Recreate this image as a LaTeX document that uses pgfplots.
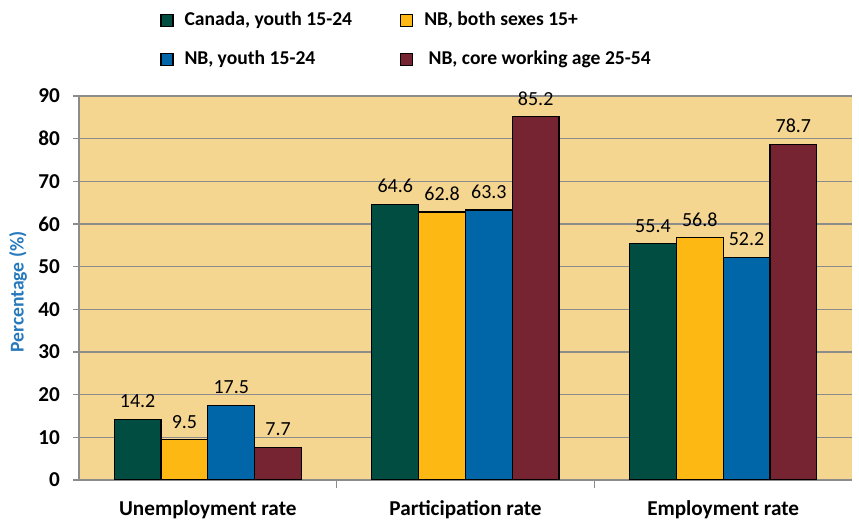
\documentclass[border=0pt]{standalone}
\usepackage{pgfplots}
\pgfplotsset{compat=1.18}
\usepackage{fontspec}
\setmainfont{Carlito}
\definecolor{bgc}{HTML}{F5D690}
\definecolor{cgreen}{HTML}{024D41}
\definecolor{cyellow}{HTML}{FDB813}
\definecolor{cblue}{HTML}{0066A8}
\definecolor{cmaroon}{HTML}{772432}
\definecolor{labblue}{HTML}{2779BD}
\definecolor{gridc}{HTML}{8C8C8C}
\begin{document}
\begin{tikzpicture}
\begin{axis}[
 at={(0,0)},anchor=south west,
 scale only axis,width=386.5pt,height=192pt,
 ybar=0pt,bar width=23.4pt,
 xmin=-0.5,xmax=2.5,ymin=0,ymax=90,
 axis background/.style={fill=bgc},
 axis x line*=bottom,axis y line*=left,
 axis line style={gridc,line width=0.7pt},
 xtick={0,1,2},xticklabels={Unemployment rate,Participation rate,Employment rate},
 minor xtick={0.5,1.5},
 ytick={0,10,...,90},
 major x tick style={draw=none},
 minor x tick style={gridc,line width=0.7pt},
 minor tick length=4pt,
 y tick style={gridc,line width=0.7pt},
 major tick length=3pt,
 tick align=outside,
 ymajorgrids,grid style={gridc,line width=0.7pt},
 /pgf/number format/assume math mode=true,
 ticklabel style={font=\fontsize{10.6}{12}\selectfont\bfseries},
 xticklabel style={yshift=-4pt},
 yticklabel style={xshift=-3pt},
 ylabel={Percentage (\%)},
 ylabel style={font=\fontsize{9.8}{11}\selectfont\bfseries,color=labblue,at={(axis description cs:-0.079,0.49)},anchor=center},
 nodes near coords={\pgfmathprintnumber[fixed,fixed zerofill,precision=1]{\pgfplotspointmeta}},
 every node near coord/.append style={font=\fontsize{10}{12}\selectfont,color=black,yshift=2pt},
 legend style={at={(0.097,1)},anchor=south west,yshift=11pt,draw=none,fill=none,
   legend columns=2,font=\fontsize{9.8}{12}\selectfont\bfseries,
   /tikz/every even column/.append style={column sep=23pt},
   row sep=9pt,
   nodes={inner sep=1pt}},
 legend image code/.code={\draw[#1,line width=0.6pt] (0pt,-3pt) rectangle (6pt,3pt);\path (10.5pt,0pt);},
 legend cell align=left,
]
\addplot[draw=black,line width=0.6pt,fill=cgreen] coordinates {(0,14.2) (1,64.6) (2,55.4)};
\addplot[draw=black,line width=0.6pt,fill=cyellow] coordinates {(0,9.5) (1,62.8) (2,56.8)};
\addplot[draw=black,line width=0.6pt,fill=cblue] coordinates {(0,17.5) (1,63.3) (2,52.2)};
\addplot[draw=black,line width=0.6pt,fill=cmaroon] coordinates {(0,7.7) (1,85.2) (2,78.7)};
\legend{{Canada,\ youth 15-24},{NB, both sexes 15+},{NB, youth 15-24},{\ NB, core working age 25-54}}
\end{axis}
\useasboundingbox (-39.5pt,-19pt) rectangle (390pt,240pt);
\end{tikzpicture}
\end{document}
